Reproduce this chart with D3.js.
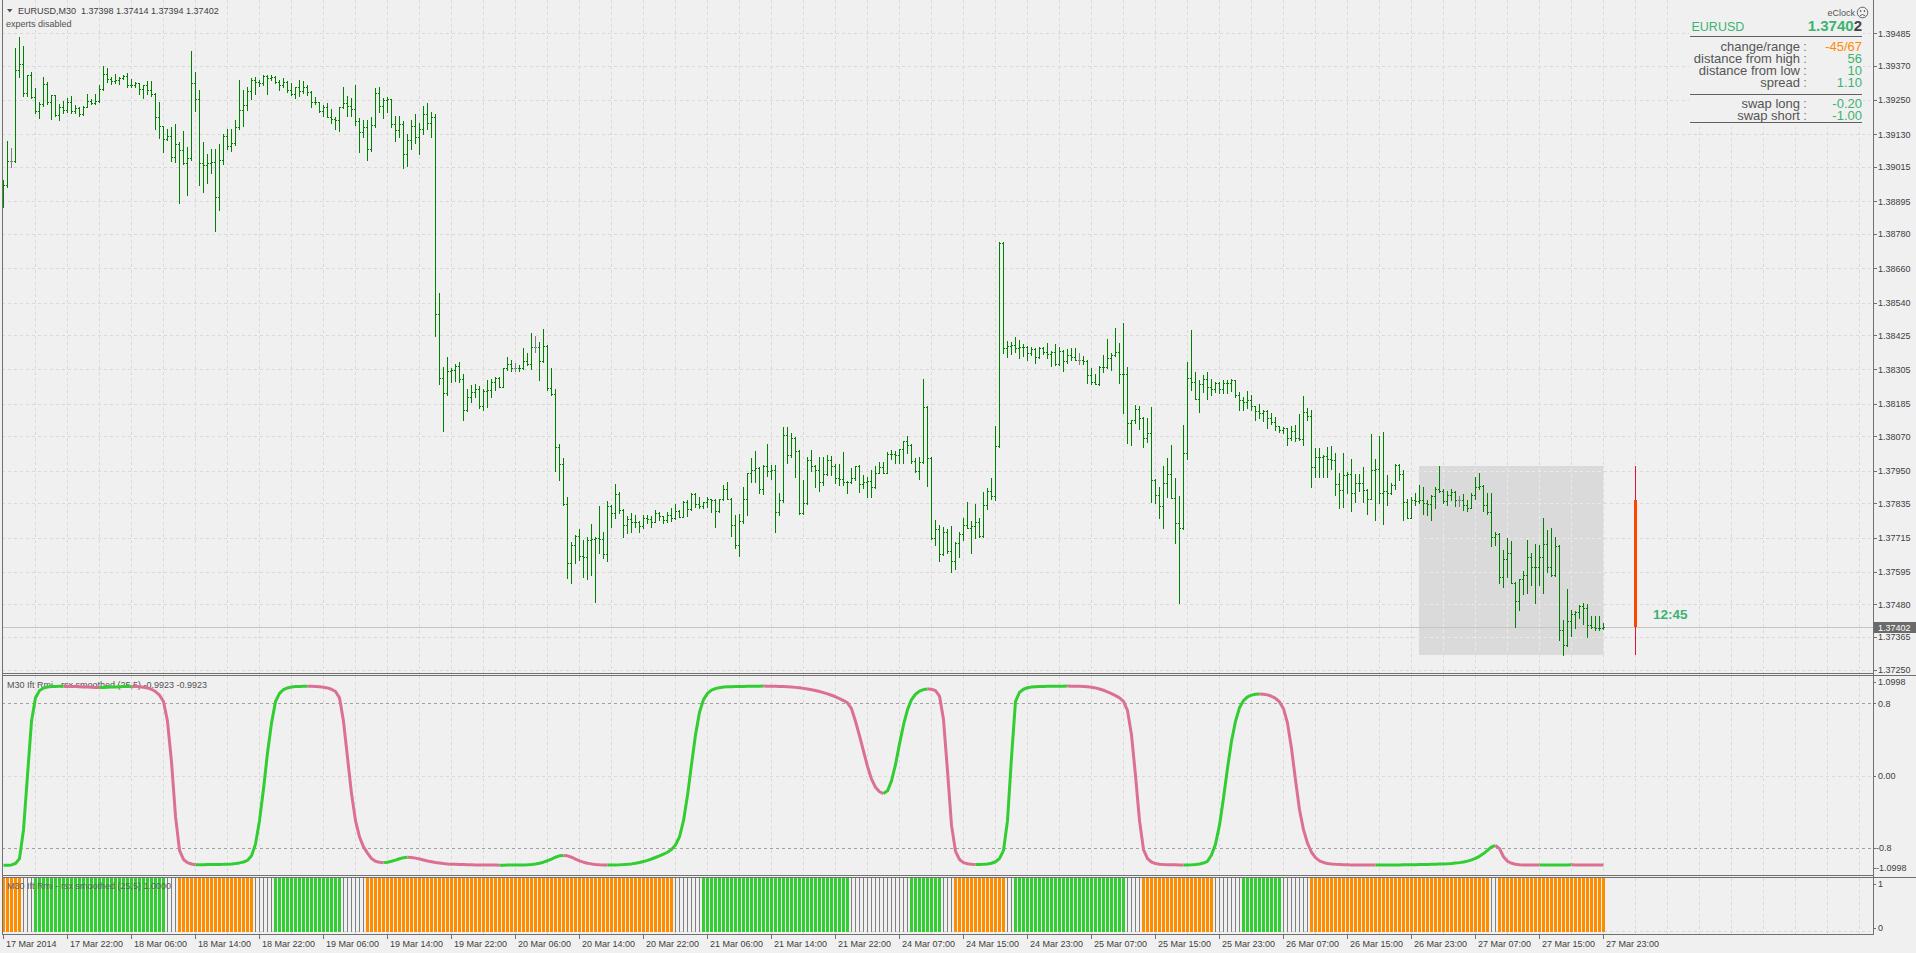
<!DOCTYPE html>
<html><head><meta charset="utf-8"><title>EURUSD,M30</title>
<script src="https://cdn.jsdelivr.net/npm/d3@7/dist/d3.min.js"></script>
<style>
html,body{margin:0;padding:0;background:#f0f0f0;overflow:hidden;}
svg{display:block;font-family:"Liberation Sans",Arial,sans-serif;}
</style></head><body>
<svg id="chart" width="1916" height="953"></svg>
<script>
// ---------------- DATA ----------------
const symbol = "EURUSD", timeframe = "M30";
const headerPrices = ["1.37398","1.37414","1.37394","1.37402"];
const opens = [
1.38930,1.38953,1.39036,1.39036,1.39356,1.39376,1.39274,1.39339,1.39260,1.39214,
1.39237,1.39307,1.39243,1.39267,1.39198,1.39228,1.39215,1.39244,1.39211,1.39222,
1.39202,1.39226,1.39248,1.39242,1.39248,1.39288,1.39341,1.39325,1.39319,1.39321,
1.39327,1.39336,1.39304,1.39302,1.39309,1.39290,1.39304,1.39286,1.39271,1.39190,
1.39160,1.39115,1.39126,1.39050,1.39097,1.39076,1.39029,1.39047,1.39310,1.39253,
1.39031,1.39023,1.39031,1.39033,1.38909,1.39040,1.39125,1.39090,1.39099,1.39157,
1.39216,1.39232,1.39281,1.39321,1.39314,1.39312,1.39336,1.39327,1.39333,1.39313,
1.39304,1.39315,1.39286,1.39272,1.39295,1.39284,1.39295,1.39280,1.39245,1.39243,
1.39212,1.39228,1.39192,1.39184,1.39181,1.39225,1.39239,1.39229,1.39221,1.39176,
1.39138,1.39157,1.39079,1.39163,1.39274,1.39230,1.39251,1.39253,1.39166,1.39146,
1.39166,1.39060,1.39110,1.39160,1.39120,1.39150,1.39200,1.39170,1.39190,1.38500,
1.38274,1.38221,1.38301,1.38303,1.38317,1.38272,1.38163,1.38207,1.38225,1.38237,
1.38177,1.38231,1.38233,1.38262,1.38274,1.38245,1.38309,1.38324,1.38309,1.38309,
1.38311,1.38335,1.38324,1.38383,1.38383,1.38335,1.38389,1.38239,1.38219,1.38034,
1.37973,1.37833,1.37625,1.37689,1.37722,1.37650,1.37646,1.37707,1.37710,1.37714,
1.37709,1.37657,1.37824,1.37800,1.37868,1.37810,1.37759,1.37780,1.37771,1.37769,
1.37756,1.37783,1.37779,1.37771,1.37800,1.37789,1.37777,1.37794,1.37783,1.37808,
1.37788,1.37838,1.37814,1.37868,1.37833,1.37826,1.37838,1.37849,1.37847,1.37808,
1.37849,1.37884,1.37851,1.37759,1.37689,1.37774,1.37849,1.37941,1.37952,1.37958,
1.37884,1.37967,1.37950,1.37953,1.37806,1.37847,1.38075,1.38005,1.38063,1.38020,
1.37800,1.37835,1.37987,1.37966,1.37952,1.37909,1.37938,1.37987,1.37967,1.37923,
1.37921,1.37909,1.37911,1.37923,1.37966,1.37902,1.37911,1.37913,1.37891,1.37943,
1.37964,1.37943,1.38008,1.38007,1.38005,1.38025,1.38054,1.38040,1.37985,1.37950,
1.37981,1.38172,1.37995,1.37712,1.37744,1.37656,1.37735,1.37668,1.37633,1.37695,
1.37727,1.37759,1.37750,1.37756,1.37771,1.37720,1.37829,1.37880,1.37861,1.38036,
1.38750,1.38379,1.38387,1.38391,1.38379,1.38385,1.38383,1.38362,1.38377,1.38348,
1.38379,1.38365,1.38359,1.38365,1.38324,1.38370,1.38336,1.38356,1.38348,1.38338,
1.38338,1.38336,1.38286,1.38262,1.38254,1.38315,1.38313,1.38344,1.38356,1.38365,
1.38288,1.38289,1.38116,1.38126,1.38165,1.38134,1.38063,1.38081,1.37917,1.37864,
1.37826,1.37908,1.37938,1.37855,1.37765,1.37748,1.38011,1.38274,1.38260,1.38201,
1.38254,1.38270,1.38244,1.38238,1.38258,1.38235,1.38259,1.38256,1.38267,1.38215,
1.38197,1.38191,1.38197,1.38176,1.38160,1.38153,1.38160,1.38133,1.38121,1.38106,
1.38094,1.38098,1.38063,1.38090,1.38063,1.38060,1.38156,1.38142,1.37961,1.37996,
1.37998,1.38001,1.37992,1.37987,1.37902,1.37881,1.37934,1.37937,1.37870,1.37907,
1.37905,1.37881,1.37852,1.37951,1.37957,1.37870,1.37879,1.37872,1.37899,1.37971,
1.37937,1.37840,1.37785,1.37846,1.37844,1.37848,1.37835,1.37831,1.37860,1.37887,
1.37879,1.37844,1.37864,1.37876,1.37846,1.37846,1.37829,1.37820,1.37864,1.37893,
1.37895,1.37829,1.37805,1.37718,1.37729,1.37577,1.37638,1.37659,1.37556,1.37492,
1.37568,1.37583,1.37645,1.37610,1.37612,1.37645,1.37692,1.37610,1.37583,1.37685,
1.37390,1.37337,1.37423,1.37448,1.37454,1.37476,1.37469,1.37407,1.37402,1.37396,
1.37398];
const highs = [
1.38970,1.39107,1.39083,1.39432,1.39471,1.39441,1.39339,1.39350,1.39292,1.39245,
1.39333,1.39313,1.39269,1.39269,1.39237,1.39249,1.39257,1.39265,1.39235,1.39225,
1.39230,1.39271,1.39255,1.39271,1.39304,1.39370,1.39362,1.39333,1.39342,1.39333,
1.39339,1.39345,1.39324,1.39315,1.39310,1.39304,1.39319,1.39319,1.39274,1.39245,
1.39161,1.39149,1.39155,1.39167,1.39102,1.39142,1.39085,1.39422,1.39348,1.39286,
1.39102,1.39061,1.39079,1.39079,1.39097,1.39132,1.39149,1.39149,1.39181,1.39321,
1.39286,1.39295,1.39327,1.39333,1.39321,1.39339,1.39339,1.39339,1.39336,1.39321,
1.39327,1.39319,1.39310,1.39298,1.39321,1.39319,1.39304,1.39282,1.39260,1.39245,
1.39233,1.39239,1.39219,1.39190,1.39228,1.39298,1.39266,1.39258,1.39304,1.39187,
1.39181,1.39181,1.39190,1.39292,1.39295,1.39257,1.39263,1.39255,1.39196,1.39195,
1.39178,1.39130,1.39180,1.39200,1.39170,1.39230,1.39240,1.39210,1.39200,1.38574,
1.38315,1.38348,1.38309,1.38324,1.38330,1.38289,1.38237,1.38251,1.38254,1.38248,
1.38235,1.38268,1.38272,1.38280,1.38280,1.38309,1.38348,1.38338,1.38329,1.38321,
1.38379,1.38364,1.38432,1.38423,1.38400,1.38447,1.38391,1.38309,1.38235,1.38044,
1.37993,1.37856,1.37698,1.37724,1.37744,1.37707,1.37716,1.37763,1.37716,1.37826,
1.37733,1.37843,1.37829,1.37903,1.37876,1.37814,1.37789,1.37800,1.37794,1.37774,
1.37794,1.37794,1.37789,1.37812,1.37803,1.37791,1.37806,1.37818,1.37833,1.37810,
1.37843,1.37847,1.37870,1.37873,1.37856,1.37841,1.37856,1.37852,1.37849,1.37849,
1.37900,1.37909,1.37853,1.37794,1.37798,1.37891,1.37943,1.37993,1.38017,1.37964,
1.37970,1.38044,1.37970,1.37970,1.37873,1.38102,1.38102,1.38081,1.38069,1.38022,
1.37917,1.37997,1.38022,1.37968,1.37999,1.37999,1.38005,1.38001,1.37973,1.37973,
1.38014,1.37915,1.37958,1.37967,1.37968,1.37935,1.37926,1.37952,1.37966,1.37979,
1.37979,1.38014,1.38022,1.38020,1.38026,1.38055,1.38072,1.38043,1.37995,1.37999,
1.38272,1.38175,1.37997,1.37777,1.37759,1.37753,1.37744,1.37756,1.37701,1.37735,
1.37783,1.37839,1.37773,1.37832,1.37783,1.37874,1.37888,1.37923,1.38107,1.38754,
1.38754,1.38405,1.38400,1.38418,1.38408,1.38394,1.38389,1.38383,1.38380,1.38385,
1.38383,1.38397,1.38371,1.38394,1.38385,1.38373,1.38376,1.38379,1.38379,1.38362,
1.38353,1.38338,1.38309,1.38289,1.38317,1.38356,1.38412,1.38362,1.38452,1.38397,
1.38467,1.38313,1.38128,1.38180,1.38177,1.38137,1.38134,1.38172,1.37920,1.37894,
1.37966,1.37995,1.38040,1.37923,1.37861,1.38110,1.38332,1.38444,1.38297,1.38268,
1.38285,1.38297,1.38270,1.38262,1.38262,1.38267,1.38267,1.38273,1.38269,1.38226,
1.38209,1.38229,1.38215,1.38178,1.38183,1.38164,1.38164,1.38153,1.38139,1.38108,
1.38104,1.38100,1.38106,1.38109,1.38148,1.38211,1.38168,1.38164,1.38028,1.38031,
1.38004,1.38033,1.38036,1.38010,1.37940,1.38010,1.37946,1.37992,1.37937,1.37937,
1.37961,1.37884,1.38080,1.37992,1.38071,1.38086,1.37934,1.37905,1.37973,1.37973,
1.37951,1.37852,1.37858,1.37872,1.37899,1.37893,1.37846,1.37864,1.37891,1.37966,
1.37884,1.37879,1.37884,1.37879,1.37860,1.37867,1.37846,1.37872,1.37926,1.37940,
1.37899,1.37872,1.37872,1.37735,1.37732,1.37671,1.37715,1.37703,1.37558,1.37571,
1.37598,1.37706,1.37659,1.37692,1.37688,1.37785,1.37741,1.37747,1.37718,1.37688,
1.37425,1.37533,1.37460,1.37458,1.37478,1.37484,1.37481,1.37439,1.37439,1.37439,
1.37414];
const lows = [
1.38874,1.38944,1.39015,1.39032,1.39333,1.39266,1.39266,1.39257,1.39204,1.39189,
1.39230,1.39237,1.39185,1.39193,1.39181,1.39204,1.39210,1.39206,1.39204,1.39195,
1.39198,1.39225,1.39237,1.39237,1.39245,1.39286,1.39315,1.39307,1.39310,1.39307,
1.39325,1.39295,1.39298,1.39295,1.39272,1.39258,1.39272,1.39266,1.39149,1.39119,
1.39070,1.39111,1.39037,1.39032,1.38891,1.39026,1.38919,1.39040,1.39214,1.38953,
1.38929,1.38961,1.38996,1.38792,1.38863,1.39025,1.39079,1.39073,1.39093,1.39150,
1.39161,1.39216,1.39256,1.39272,1.39300,1.39304,1.39272,1.39321,1.39310,1.39286,
1.39298,1.39278,1.39269,1.39258,1.39266,1.39274,1.39267,1.39228,1.39237,1.39210,
1.39195,1.39190,1.39169,1.39149,1.39143,1.39222,1.39196,1.39193,1.39163,1.39070,
1.39120,1.39040,1.39073,1.39157,1.39210,1.39189,1.39210,1.39157,1.39108,1.39122,
1.39011,1.39020,1.39080,1.39100,1.39060,1.39130,1.39150,1.39120,1.38424,1.38253,
1.38090,1.38215,1.38260,1.38266,1.38260,1.38128,1.38160,1.38192,1.38210,1.38169,
1.38161,1.38172,1.38210,1.38233,1.38242,1.38243,1.38303,1.38301,1.38301,1.38301,
1.38307,1.38319,1.38307,1.38368,1.38268,1.38330,1.38233,1.38216,1.37950,1.37917,
1.37829,1.37572,1.37557,1.37627,1.37636,1.37576,1.37569,1.37584,1.37487,1.37660,
1.37642,1.37631,1.37753,1.37783,1.37800,1.37718,1.37730,1.37736,1.37753,1.37736,
1.37748,1.37767,1.37753,1.37768,1.37777,1.37767,1.37771,1.37774,1.37779,1.37786,
1.37786,1.37791,1.37812,1.37823,1.37818,1.37818,1.37823,1.37806,1.37753,1.37805,
1.37846,1.37849,1.37721,1.37677,1.37650,1.37767,1.37794,1.37911,1.37911,1.37870,
1.37868,1.37931,1.37920,1.37736,1.37794,1.37839,1.37978,1.37999,1.37929,1.37797,
1.37798,1.37832,1.37950,1.37894,1.37880,1.37900,1.37935,1.37935,1.37905,1.37900,
1.37900,1.37873,1.37905,1.37917,1.37876,1.37888,1.37859,1.37859,1.37888,1.37940,
1.37940,1.37940,1.37990,1.37976,1.37978,1.37978,1.38011,1.37978,1.37946,1.37919,
1.37978,1.37896,1.37709,1.37689,1.37633,1.37654,1.37660,1.37595,1.37604,1.37648,
1.37706,1.37748,1.37662,1.37712,1.37718,1.37718,1.37814,1.37849,1.37847,1.38033,
1.38362,1.38347,1.38358,1.38365,1.38344,1.38353,1.38338,1.38356,1.38329,1.38345,
1.38359,1.38344,1.38318,1.38321,1.38322,1.38301,1.38327,1.38338,1.38338,1.38323,
1.38323,1.38259,1.38253,1.38253,1.38251,1.38297,1.38310,1.38303,1.38353,1.38259,
1.38151,1.38046,1.38040,1.38116,1.38095,1.38034,1.38052,1.37838,1.37835,1.37783,
1.37748,1.37859,1.37853,1.37697,1.37484,1.37744,1.37990,1.38233,1.38200,1.38157,
1.38226,1.38201,1.38215,1.38226,1.38223,1.38223,1.38223,1.38230,1.38209,1.38162,
1.38162,1.38168,1.38164,1.38129,1.38133,1.38125,1.38098,1.38113,1.38094,1.38086,
1.38083,1.38039,1.38057,1.38054,1.38057,1.38039,1.38129,1.37893,1.37928,1.37928,
1.37928,1.37928,1.37957,1.37864,1.37817,1.37823,1.37870,1.37809,1.37840,1.37879,
1.37840,1.37799,1.37849,1.37778,1.37835,1.37762,1.37829,1.37868,1.37887,1.37916,
1.37778,1.37782,1.37782,1.37829,1.37835,1.37799,1.37794,1.37776,1.37820,1.37876,
1.37837,1.37829,1.37846,1.37825,1.37825,1.37811,1.37809,1.37818,1.37852,1.37887,
1.37809,1.37797,1.37685,1.37688,1.37554,1.37540,1.37575,1.37554,1.37402,1.37460,
1.37516,1.37519,1.37548,1.37486,1.37548,1.37519,1.37595,1.37580,1.37580,1.37357,
1.37302,1.37334,1.37369,1.37396,1.37434,1.37411,1.37367,1.37396,1.37392,1.37392,
1.37394];
const closes = [
1.38953,1.39036,1.39036,1.39356,1.39376,1.39274,1.39339,1.39260,1.39214,1.39237,
1.39307,1.39243,1.39267,1.39198,1.39228,1.39215,1.39244,1.39211,1.39222,1.39202,
1.39226,1.39248,1.39242,1.39248,1.39288,1.39341,1.39325,1.39319,1.39321,1.39327,
1.39336,1.39304,1.39302,1.39309,1.39290,1.39304,1.39286,1.39271,1.39190,1.39160,
1.39115,1.39126,1.39050,1.39097,1.39076,1.39029,1.39047,1.39310,1.39253,1.39031,
1.39023,1.39031,1.39033,1.38909,1.39040,1.39125,1.39090,1.39099,1.39157,1.39216,
1.39232,1.39281,1.39321,1.39314,1.39312,1.39336,1.39327,1.39333,1.39313,1.39304,
1.39315,1.39286,1.39272,1.39295,1.39284,1.39295,1.39280,1.39245,1.39243,1.39212,
1.39228,1.39192,1.39184,1.39181,1.39225,1.39239,1.39229,1.39221,1.39176,1.39138,
1.39157,1.39079,1.39163,1.39274,1.39230,1.39251,1.39253,1.39166,1.39146,1.39166,
1.39060,1.39110,1.39160,1.39120,1.39150,1.39200,1.39170,1.39190,1.38500,1.38274,
1.38221,1.38301,1.38303,1.38317,1.38272,1.38163,1.38207,1.38225,1.38237,1.38177,
1.38231,1.38233,1.38262,1.38274,1.38245,1.38309,1.38324,1.38309,1.38309,1.38311,
1.38335,1.38324,1.38383,1.38383,1.38335,1.38389,1.38239,1.38219,1.38034,1.37973,
1.37833,1.37625,1.37689,1.37722,1.37650,1.37646,1.37707,1.37710,1.37714,1.37709,
1.37657,1.37824,1.37800,1.37868,1.37810,1.37759,1.37780,1.37771,1.37769,1.37756,
1.37783,1.37779,1.37771,1.37800,1.37789,1.37777,1.37794,1.37783,1.37808,1.37788,
1.37838,1.37814,1.37868,1.37833,1.37826,1.37838,1.37849,1.37847,1.37808,1.37849,
1.37884,1.37851,1.37759,1.37689,1.37774,1.37849,1.37941,1.37952,1.37958,1.37884,
1.37967,1.37950,1.37953,1.37806,1.37847,1.38075,1.38005,1.38063,1.38020,1.37800,
1.37835,1.37987,1.37966,1.37952,1.37909,1.37938,1.37987,1.37967,1.37923,1.37921,
1.37909,1.37911,1.37923,1.37966,1.37902,1.37911,1.37913,1.37891,1.37943,1.37964,
1.37943,1.38008,1.38007,1.38005,1.38025,1.38054,1.38040,1.37985,1.37950,1.37981,
1.38172,1.37995,1.37712,1.37744,1.37656,1.37735,1.37668,1.37633,1.37695,1.37727,
1.37759,1.37750,1.37756,1.37771,1.37720,1.37829,1.37880,1.37861,1.38036,1.38750,
1.38379,1.38387,1.38391,1.38379,1.38385,1.38383,1.38362,1.38377,1.38348,1.38379,
1.38365,1.38359,1.38365,1.38324,1.38370,1.38336,1.38356,1.38348,1.38338,1.38338,
1.38336,1.38286,1.38262,1.38254,1.38315,1.38313,1.38344,1.38356,1.38365,1.38288,
1.38289,1.38116,1.38126,1.38165,1.38134,1.38063,1.38081,1.37917,1.37864,1.37826,
1.37908,1.37938,1.37855,1.37765,1.37748,1.38011,1.38274,1.38260,1.38201,1.38254,
1.38270,1.38244,1.38238,1.38258,1.38235,1.38259,1.38256,1.38267,1.38215,1.38197,
1.38191,1.38197,1.38176,1.38160,1.38153,1.38160,1.38133,1.38121,1.38106,1.38094,
1.38098,1.38063,1.38090,1.38063,1.38060,1.38156,1.38142,1.37961,1.37996,1.37998,
1.38001,1.37992,1.37987,1.37902,1.37881,1.37934,1.37937,1.37870,1.37907,1.37905,
1.37881,1.37852,1.37951,1.37957,1.37870,1.37879,1.37872,1.37899,1.37971,1.37937,
1.37840,1.37785,1.37846,1.37844,1.37848,1.37835,1.37831,1.37860,1.37887,1.37879,
1.37844,1.37864,1.37876,1.37846,1.37846,1.37829,1.37820,1.37864,1.37893,1.37895,
1.37829,1.37805,1.37718,1.37729,1.37577,1.37638,1.37659,1.37556,1.37492,1.37568,
1.37583,1.37645,1.37610,1.37612,1.37645,1.37692,1.37610,1.37583,1.37685,1.37390,
1.37337,1.37423,1.37448,1.37454,1.37476,1.37469,1.37407,1.37402,1.37396,1.37398,
1.37402];
const dojiBars = [2,128,133,269,364];

const priceTickLabels = ["1.39485","1.39370","1.39250","1.39130","1.39015","1.38895","1.38780","1.38660","1.38540","1.38425",
  "1.38305","1.38185","1.38070","1.37950","1.37835","1.37715","1.37595","1.37480","1.37365","1.37250"];
const timeLabels = ["17 Mar 2014","17 Mar 22:00","18 Mar 06:00","18 Mar 14:00","18 Mar 22:00","19 Mar 06:00","19 Mar 14:00",
  "19 Mar 22:00","20 Mar 06:00","20 Mar 14:00","20 Mar 22:00","21 Mar 06:00","21 Mar 14:00","21 Mar 22:00","24 Mar 07:00",
  "24 Mar 15:00","24 Mar 23:00","25 Mar 07:00","25 Mar 15:00","25 Mar 23:00","26 Mar 07:00","26 Mar 15:00","26 Mar 23:00",
  "27 Mar 07:00","27 Mar 15:00","27 Mar 23:00"];
const timeLabelBars = [0,16,32,48,64,80,96,112,128,144,160,176,192,208,224,240,256,272,288,304,320,336,352,368,384,400];

// day range (eClock)
const dayStartBar = 354;
const dayOpen = 1.37847;
const currentPrice = 1.37402;
const timerText = "12:45";

// Ift Rmi - rsx smoothed (25,5)
const rsxTitle = "M30 Ift Rmi - rsx smoothed (25,5) -0.9923 -0.9923";
const histTitle = "M30 Ift Rmi - rsx smoothed (25,5) 1.0000";
const rsxValues = [
-0.995,-0.993,-0.99,-0.975,-0.92,-0.6,0.0,0.6,0.86,0.94,
0.97,0.98,0.985,0.987,0.988,0.9885,0.988,0.987,0.985,0.983,
0.981,0.979,0.977,0.976,0.975,0.9755,0.977,0.979,0.981,0.983,
0.985,0.986,0.987,0.986,0.983,0.978,0.97,0.955,0.93,0.89,
0.82,0.6,0.15,-0.45,-0.83,-0.93,-0.965,-0.98,-0.988,-0.9878,
-0.9875,-0.987,-0.9865,-0.986,-0.985,-0.984,-0.982,-0.979,-0.975,-0.968,
-0.958,-0.94,-0.89,-0.76,-0.5,-0.15,0.25,0.58,0.82,0.91,
0.95,0.97,0.98,0.985,0.987,0.988,0.989,0.988,0.986,0.983,
0.978,0.97,0.955,0.93,0.86,0.6,0.2,-0.2,-0.5,-0.68,
-0.79,-0.86,-0.92,-0.95,-0.962,-0.965,-0.96,-0.95,-0.937,-0.922,
-0.91,-0.905,-0.908,-0.915,-0.925,-0.936,-0.947,-0.956,-0.964,-0.97,
-0.975,-0.979,-0.982,-0.984,-0.986,-0.987,-0.988,-0.989,-0.99,-0.9905,
-0.991,-0.9915,-0.992,-0.9925,-0.993,-0.9928,-0.9925,-0.992,-0.9915,-0.991,
-0.99,-0.988,-0.985,-0.98,-0.972,-0.96,-0.944,-0.925,-0.905,-0.89,
-0.885,-0.89,-0.905,-0.925,-0.945,-0.96,-0.971,-0.979,-0.985,-0.988,
-0.99,-0.991,-0.9905,-0.99,-0.989,-0.987,-0.984,-0.979,-0.972,-0.963,
-0.952,-0.94,-0.925,-0.908,-0.89,-0.87,-0.85,-0.82,-0.77,-0.68,
-0.5,-0.22,0.12,0.45,0.7,0.84,0.91,0.945,0.963,0.973,
0.979,0.982,0.984,0.985,0.986,0.987,0.988,0.9885,0.989,0.9895,
0.99,0.9895,0.989,0.988,0.987,0.985,0.983,0.98,0.976,0.971,
0.965,0.958,0.95,0.941,0.93,0.918,0.904,0.889,0.872,0.852,
0.83,0.805,0.74,0.6,0.44,0.27,0.1,-0.04,-0.13,-0.18,
-0.2,-0.17,-0.06,0.12,0.35,0.56,0.73,0.84,0.9,0.935,
0.952,0.958,0.955,0.94,0.88,0.62,0.05,-0.55,-0.84,-0.93,
-0.965,-0.978,-0.984,-0.987,-0.986,-0.984,-0.98,-0.972,-0.955,-0.92,
-0.83,-0.5,0.2,0.82,0.92,0.955,0.972,0.98,0.984,0.986,
0.987,0.988,0.9885,0.989,0.9893,0.9896,0.99,0.9895,0.989,0.988,
0.986,0.983,0.978,0.97,0.958,0.944,0.927,0.907,0.885,0.86,
0.82,0.72,0.45,0.0,-0.5,-0.82,-0.92,-0.958,-0.975,-0.982,
-0.986,-0.988,-0.989,-0.9895,-0.99,-0.9903,-0.99,-0.989,-0.986,-0.98,
-0.97,-0.95,-0.88,-0.76,-0.55,-0.25,0.08,0.38,0.6,0.75,
0.83,0.87,0.89,0.9,0.902,0.9,0.893,0.878,0.855,0.815,
0.74,0.58,0.3,-0.05,-0.38,-0.6,-0.75,-0.85,-0.91,-0.945,
-0.963,-0.974,-0.98,-0.984,-0.986,-0.988,-0.989,-0.99,-0.9905,-0.991,
-0.9915,-0.992,-0.9923,-0.9925,-0.9922,-0.9918,-0.9915,-0.991,-0.9905,-0.99,
-0.9895,-0.989,-0.9885,-0.988,-0.987,-0.986,-0.985,-0.984,-0.983,-0.981,
-0.979,-0.977,-0.974,-0.97,-0.965,-0.958,-0.948,-0.935,-0.918,-0.895,
-0.865,-0.83,-0.79,-0.775,-0.81,-0.9,-0.95,-0.972,-0.983,-0.988,
-0.99,-0.991,-0.9915,-0.992,-0.9925,-0.9923,-0.9921,-0.9919,-0.9917,-0.9915,
-0.9913,-0.991,-0.9895,-0.99,-0.9905,-0.991,-0.9915,-0.992,-0.9921,-0.9922,
-0.9923];
const rsxLevels = [0.8, -0.8];
const rsxAxisLabels = ["1.0998","0.8","0.00","-0.8","-1.0998"];
// histogram state runs: o = below -0.8, g = above 0.8, n = neutral
const histRuns = [["o",5],["n",3],["g",33],["n",3],["o",19],["n",5],["g",17],["n",6],["o",77],["n",7],["g",37],
  ["n",15],["g",8],["n",3],["o",13],["n",2],["g",28],["n",4],["o",18],["n",7],["g",10],["n",7],["o",45],["n",2],["o",27]];
const histAxisLabels = ["1","0"];

// eClock info panel
const infoRows = [
  {label:"change/range", value:"-45/67", kind:"neg"},
  {label:"distance from high", value:"56", kind:"pos"},
  {label:"distance from low", value:"10", kind:"pos"},
  {label:"spread", value:"1.10", kind:"pos"},
  {label:"swap long", value:"-0.20", kind:"pos"},
  {label:"swap short", value:"-1.00", kind:"pos"}
];

// ---------------- DRAW ----------------
const COL = {bg:"#f0f0f0", grid:"#d9d9d9", gridIn:"#ebebeb", frame:"#707070", text:"#404040",
  bar:"#008000", doji:"#808080", up:"#32cd32", down:"#db7093", orange:"#ff8c00",
  hGreen:"#32cd32", neutral:"#808080", info:"#3cb371", level:"#a0a0a0"};
const P = {left:2, right:1873, mainBottom:673, indTop:675, indBottom:875, histTop:877, histBottom:934};

const svg = d3.select("#chart");
svg.append("rect").attr("width",1916).attr("height",953).attr("fill",COL.bg);

const x = d3.scaleLinear().domain([0,400]).range([3,1603]);          // pixel column of each bar
const y = d3.scaleLinear().domain([1.37250,1.39485]).range([670.0,33.3]);
const yi = d3.scaleLinear().domain([-1.0998,1.0998]).range([874.8,676.2]);
const yh = d3.scaleLinear().domain([0,1]).range([932,878]);
const Y = v => Math.round(y(v));

const priceVals = priceTickLabels.map(Number);
const gridBars = d3.range(8, 465, 8);

function drawGrid(g, color){
  g.attr("stroke",color).attr("stroke-dasharray","3,3").attr("shape-rendering","crispEdges").attr("fill","none");
  [[0,P.mainBottom],[P.indTop+1,P.indBottom],[P.histTop+1,P.histBottom]].forEach(([a,b])=>{
    g.append("g").selectAll("line").data(gridBars).join("line")
      .attr("x1",d=>x(d)+0.5).attr("x2",d=>x(d)+0.5).attr("y1",a).attr("y2",b);
  });
  g.append("g").selectAll("line").data(priceVals).join("line")
    .attr("x1",P.left).attr("x2",P.right).attr("y1",d=>Math.round(y(d))+0.5).attr("y2",d=>Math.round(y(d))+0.5);
  g.append("line").attr("x1",P.left).attr("x2",P.right).attr("y1",Math.round(yi(0))+0.5).attr("y2",Math.round(yi(0))+0.5);
  g.append("line").attr("x1",P.left).attr("x2",P.right).attr("y1",931.5).attr("y2",931.5);
}
drawGrid(svg.append("g"), COL.grid);

// day range rectangle
const dayIdx = d3.range(dayStartBar, closes.length);
const dayHigh = d3.max(dayIdx, i=>highs[i]), dayLow = d3.min(dayIdx, i=>lows[i]);
const rx0 = x(dayStartBar), rx1 = x(closes.length-1)+1, ry0 = Y(dayHigh), ry1 = Y(dayLow);
svg.append("rect").attr("x",rx0).attr("y",ry0).attr("width",rx1-rx0).attr("height",ry1-ry0).attr("fill","#dadada");
svg.append("defs").append("clipPath").attr("id","dayClip").append("rect")
  .attr("x",rx0).attr("y",ry0).attr("width",rx1-rx0).attr("height",ry1-ry0);
drawGrid(svg.append("g").attr("clip-path","url(#dayClip)"), COL.gridIn);

// current price line
svg.append("line").attr("x1",P.left).attr("x2",P.right).attr("y1",Y(currentPrice)+0.5).attr("y2",Y(currentPrice)+0.5)
  .attr("stroke","#c4c4c4").attr("shape-rendering","crispEdges");

// OHLC bars
svg.append("g").attr("fill","none").attr("stroke-width",1).attr("shape-rendering","crispEdges")
  .selectAll("path").data(d3.range(closes.length)).join("path")
  .attr("stroke", i => dojiBars.includes(i) ? COL.doji : COL.bar)
  .attr("d", i => {
    const c = x(i);
    return `M${c+0.5},${Y(highs[i])}V${Y(lows[i])+1}M${c-1},${Y(opens[i])+0.5}h1M${c+1},${Y(closes[i])+0.5}h1`;
  });

// eClock day candle + timer
const cx = x(408);
svg.append("line").attr("x1",cx+0.5).attr("x2",cx+0.5).attr("y1",Y(dayHigh)).attr("y2",Y(dayLow))
  .attr("stroke","#dc143c").attr("stroke-width",1).attr("shape-rendering","crispEdges");
svg.append("rect").attr("x",cx-1).attr("y",Y(dayOpen)).attr("width",3).attr("height",Y(currentPrice)-Y(dayOpen))
  .attr("fill","#ff4500");
svg.append("text").attr("x",cx+18).attr("y",Y(currentPrice)-13).attr("dy","0.36em")
  .attr("font-size",13.5).attr("font-weight","bold").attr("fill",COL.info).text(timerText);

// header
svg.append("path").attr("d","M7,9h5.5l-2.75,3.5z").attr("fill","#505050");
svg.append("text").attr("x",18).attr("y",11).attr("dy","0.36em").attr("font-size",9).attr("fill",COL.text)
  .style("white-space","pre").text(`${symbol},${timeframe}  ${headerPrices.join(" ")}`);
svg.append("text").attr("x",6).attr("y",24).attr("dy","0.36em").attr("font-size",9).attr("fill","#505050")
  .text("experts disabled");

// ---- indicator panel ----
svg.append("g").attr("stroke",COL.level).attr("stroke-dasharray","3,3").attr("shape-rendering","crispEdges")
  .selectAll("line").data(rsxLevels).join("line")
  .attr("x1",P.left).attr("x2",P.right).attr("y1",d=>Math.round(yi(d))+0.5).attr("y2",d=>Math.round(yi(d))+0.5);
svg.append("text").attr("x",7).attr("y",684.5).attr("dy","0.36em").attr("font-size",9).attr("fill","#505050").text(rsxTitle);

const segs = [];
let cur = null;
for (let i=1;i<rsxValues.length;i++){
  const col = rsxValues[i] >= rsxValues[i-1] ? COL.up : COL.down;
  if (!cur || cur.col !== col){ cur = {col, pts:[[i-1, rsxValues[i-1]]]}; segs.push(cur); }
  cur.pts.push([i, rsxValues[i]]);
}
const line = d3.line().x(d=>x(d[0])+0.5).y(d=>yi(d[1]));
svg.append("g").attr("fill","none").attr("stroke-width",3).attr("stroke-linejoin","round")
  .selectAll("path").data(segs).join("path").attr("stroke",d=>d.col).attr("d",d=>line(d.pts));

// ---- histogram panel ----
const states = histRuns.flatMap(([s,n]) => Array(n).fill(s));
const hg = svg.append("g").attr("shape-rendering","crispEdges");
hg.selectAll("rect").data(states.map((s,i)=>({s,i})).filter(d=>d.s!=="n")).join("rect")
  .attr("x",d=>x(d.i)-1).attr("width",3).attr("y",yh(1)).attr("height",yh(0)-yh(1))
  .attr("fill",d=>d.s==="g"?COL.hGreen:COL.orange);
hg.selectAll("line").data(states.map((s,i)=>({s,i})).filter(d=>d.s==="n")).join("line")
  .attr("x1",d=>x(d.i)+0.5).attr("x2",d=>x(d.i)+0.5).attr("y1",yh(1)).attr("y2",yh(0))
  .attr("stroke",COL.neutral);
svg.append("text").attr("x",7).attr("y",886).attr("dy","0.36em").attr("font-size",9).attr("fill","#606060").text(histTitle);

// ---- frames ----
const fr = svg.append("g").attr("stroke",COL.frame).attr("shape-rendering","crispEdges");
fr.append("line").attr("x1",P.left+0.5).attr("x2",P.left+0.5).attr("y1",0).attr("y2",P.histBottom+1);
fr.append("line").attr("x1",P.right+0.5).attr("x2",P.right+0.5).attr("y1",0).attr("y2",P.histBottom+1);
[[P.mainBottom,P.right],[P.indTop,1916],[P.indBottom,P.right],[P.histTop,1916],[P.histBottom,P.right+1]].forEach(([yy,xr])=>{
  fr.append("line").attr("x1",P.left).attr("x2",xr).attr("y1",yy+0.5).attr("y2",yy+0.5);
});

// ---- price axis ----
const ax = svg.append("g").attr("font-size",9).attr("fill",COL.text);
ax.selectAll("line").data(priceVals).join("line").attr("x1",P.right).attr("x2",P.right+4)
  .attr("y1",d=>Math.round(y(d))+0.5).attr("y2",d=>Math.round(y(d))+0.5).attr("stroke",COL.frame).attr("shape-rendering","crispEdges");
ax.selectAll("text").data(priceTickLabels).join("text").attr("x",P.right+5).attr("y",d=>y(+d)).attr("dy","0.36em").text(d=>d);
svg.append("rect").attr("x",P.right+1).attr("y",Y(currentPrice)-5).attr("width",1916-P.right-1).attr("height",11).attr("fill","#6a6a6a");
svg.append("text").attr("x",P.right+5).attr("y",Y(currentPrice)+0.5).attr("dy","0.36em").attr("font-size",9).attr("fill","#ffffff")
  .text(currentPrice.toFixed(5));

// indicator axis
const clampI = v => Math.max(P.indTop+7, Math.min(P.indBottom-7, yi(v)));
const ia = svg.append("g").attr("font-size",9).attr("fill",COL.text);
ia.selectAll("line").data(rsxAxisLabels).join("line").attr("x1",P.right).attr("x2",P.right+3)
  .attr("y1",d=>Math.round(clampI(+d))+0.5).attr("y2",d=>Math.round(clampI(+d))+0.5).attr("stroke",COL.frame);
ia.selectAll("text").data(rsxAxisLabels).join("text").attr("x",d=>P.right+(d.startsWith("-")?3:5))
  .attr("y",d=>clampI(+d)).attr("dy","0.36em").text(d=>d);
const clampH = v => Math.max(P.histTop+7, Math.min(P.histBottom-6, yh(v)));
const ha = svg.append("g").attr("font-size",9).attr("fill",COL.text);
ha.selectAll("line").data(histAxisLabels).join("line").attr("x1",P.right).attr("x2",P.right+3)
  .attr("y1",d=>Math.round(clampH(+d))+0.5).attr("y2",d=>Math.round(clampH(+d))+0.5).attr("stroke",COL.frame);
ha.selectAll("text").data(histAxisLabels).join("text").attr("x",P.right+5).attr("y",d=>clampH(+d)).attr("dy","0.36em").text(d=>d);

// time axis
const ta = svg.append("g").attr("font-size",9).attr("fill",COL.text);
ta.selectAll("line").data(timeLabelBars).join("line").attr("x1",d=>x(d)+0.5).attr("x2",d=>x(d)+0.5)
  .attr("y1",P.histBottom).attr("y2",P.histBottom+5).attr("stroke",COL.frame).attr("shape-rendering","crispEdges");
ta.selectAll("text").data(timeLabels).join("text").attr("x",(d,i)=>x(timeLabelBars[i])+3).attr("y",944).attr("dy","0.36em").text(d=>d);

// ---- eClock info panel ----
const ip = svg.append("g");
ip.append("rect").attr("x",1689).attr("y",0).attr("width",174).attr("height",127).attr("fill",COL.bg);
ip.append("text").attr("x",1855).attr("y",12.5).attr("dy","0.36em").attr("text-anchor","end").attr("font-size",9).attr("fill","#555").text("eClock");
const face = ip.append("g").attr("fill","none").attr("stroke","#555").attr("stroke-width",0.9);
face.append("circle").attr("cx",1862.5).attr("cy",12.5).attr("r",5.3);
face.append("circle").attr("cx",1860.6).attr("cy",11).attr("r",0.5).attr("fill","#555");
face.append("circle").attr("cx",1864.4).attr("cy",11).attr("r",0.5).attr("fill","#555");
face.append("path").attr("d","M859.8,15.8Q1862.5,13.2 1865.2,15.8".replace("M859.8","M1859.8"));
ip.append("text").attr("x",1691.5).attr("y",26).attr("dy","0.36em").attr("font-size",12.5).attr("fill",COL.info).text(symbol);
const bigP = currentPrice.toFixed(5);
const bp = ip.append("text").attr("x",1862).attr("y",26).attr("dy","0.36em").attr("text-anchor","end")
  .attr("font-size",15).attr("font-weight","bold");
bp.append("tspan").attr("fill",COL.info).text(bigP.slice(0,-1));
bp.append("tspan").attr("fill","#444").text(bigP.slice(-1));
[36.5, 94.5, 122.5].forEach(yy=>ip.append("line").attr("x1",1690).attr("x2",1862).attr("y1",yy).attr("y2",yy)
  .attr("stroke","#606060").attr("shape-rendering","crispEdges"));
const rowY = [46.7, 58.5, 70.3, 82, 103.3, 115];
infoRows.forEach((r,k)=>{
  ip.append("text").attr("x",1800).attr("y",rowY[k]).attr("dy","0.36em").attr("text-anchor","end")
    .attr("font-size",13).attr("fill","#555").text(r.label);
  ip.append("text").attr("x",1805).attr("y",rowY[k]).attr("dy","0.36em").attr("text-anchor","middle")
    .attr("font-size",13).attr("fill","#777").text(":");
  ip.append("text").attr("x",1862).attr("y",rowY[k]).attr("dy","0.36em").attr("text-anchor","end")
    .attr("font-size",13).attr("fill", r.kind==="neg" ? COL.orange : COL.info).text(r.value);
});
</script>
</body></html>
